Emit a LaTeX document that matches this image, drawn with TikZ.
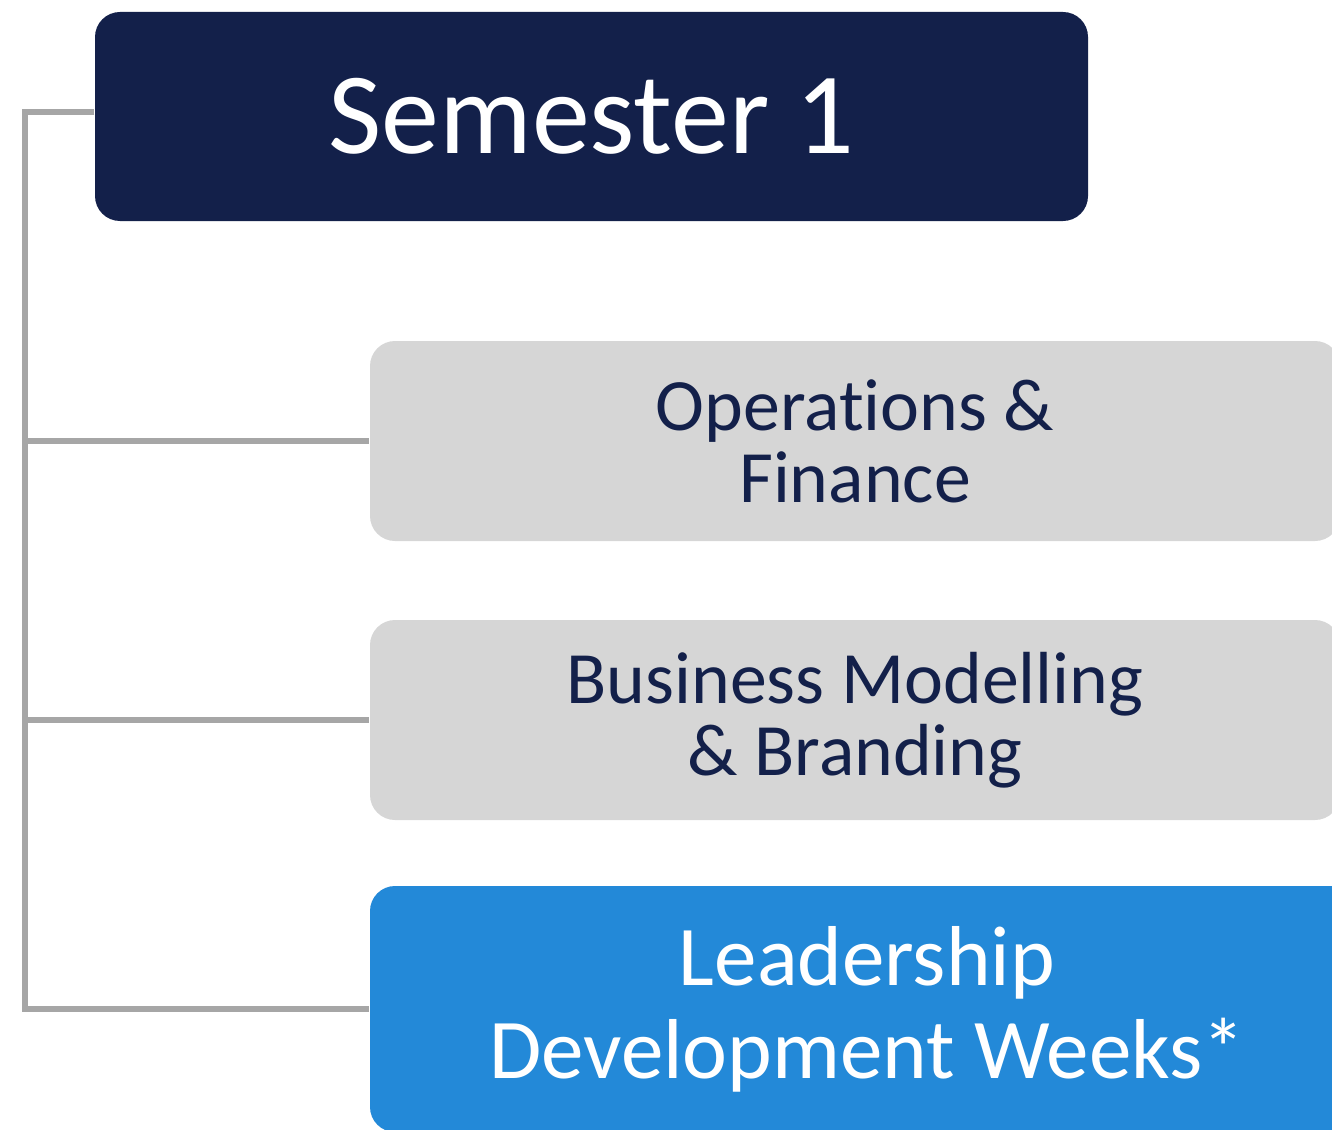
\documentclass[tikz,border=0pt]{standalone}
\usepackage{fontspec}
\setmainfont{Carlito}[Ligatures=NoCommon]
\usepackage{tikz}

\definecolor{navy}{HTML}{13204A}
\definecolor{panel}{HTML}{D6D6D6}
\definecolor{sky}{HTML}{2389D8}
\definecolor{rail}{HTML}{A6A6A6}

\begin{document}
\begin{tikzpicture}[
        semester/.style={fill=navy,text=white,rounded corners=0.25cm,minimum width=9.93cm,minimum height=2.09cm,
            font=\fontsize{33pt}{33pt}\selectfont},
        module/.style={fill=panel,text=navy,rounded corners=0.25cm,minimum width=9.70cm,minimum height=2.00cm,
            align=center,font=\fontsize{21pt}{20.5pt}\selectfont},
        weeks/.style={fill=sky,text=white,rounded corners=0.25cm,minimum width=9.94cm,minimum height=2.46cm,
            align=center,font=\fontsize{24.2pt}{26.5pt}\selectfont},
        link/.style={draw=rail,line width=1.5pt}]

    \useasboundingbox (0,0) rectangle (13.32,-11.29);
    \clip (0,0) rectangle (13.32,-11.29);

    \node[semester] (sem) at (5.915,-1.165) {Semester 1};
    \node[module] (ops) at (8.55,-4.41) {Operations \&\\Finance};
    \node[module] (bmb) at (8.55,-7.20) {Business Modelling\\\& Branding};
    \node[weeks] (ldw) at (8.67,-10.09) {Leadership\\Development Weeks*};

    \coordinate (spine) at (0.25,-1.12);

    % rail on the left
    \draw[link] (sem.west |- spine) -- (spine) |- (ldw.west);
    \draw[link] (spine |- ops.west) -- (ops.west);
    \draw[link] (spine |- bmb.west) -- (bmb.west);
\end{tikzpicture}
\end{document}
